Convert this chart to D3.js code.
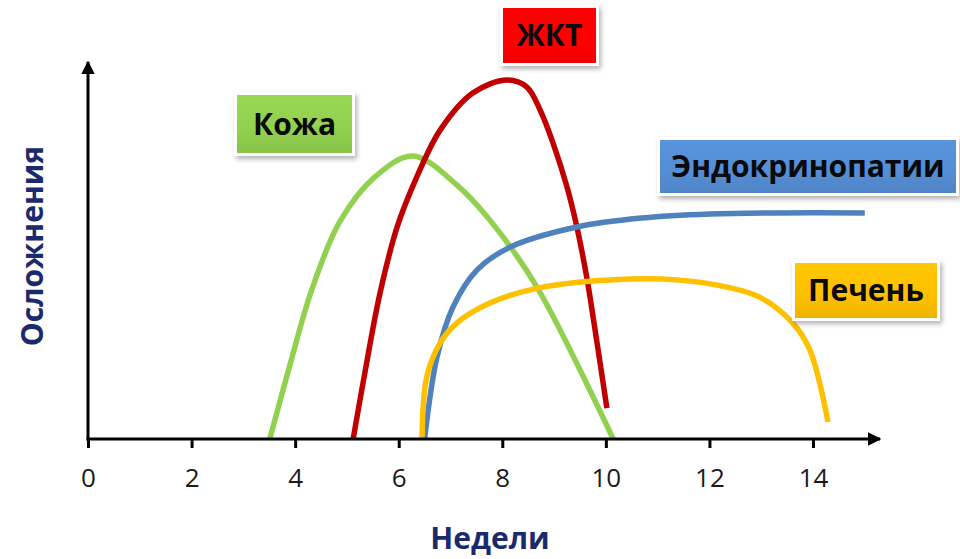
<!DOCTYPE html>
<html><head><meta charset="utf-8">
<script src="https://cdn.jsdelivr.net/npm/d3@7"></script>
<style>body{margin:0;background:#fff}svg{display:block}</style>
</head><body>
<svg id="c" width="960" height="559"></svg>
<script>
const xTicks = [0, 2, 4, 6, 8, 10, 12, 14];
const xLabel = "Недели";
const yLabel = "Осложнения";

// [week, level 0..100]
const kozha = [[3.51,0],[3.9,20.6],[4.32,41.4],[4.86,60.3],[5.54,72.8],[6.27,78.6],[7.12,70.6],[7.76,60.8],[8.67,42.2],[10.14,0]];
const zhkt = [[5.12,0],[5.39,21.9],[5.64,40.6],[5.97,58.9],[6.35,72.8],[6.8,85.8],[7.43,96.1],[8.09,99.7],[8.47,97.8],[8.73,91.4],[8.98,82.2],[9.25,70],[9.44,58.9],[9.63,45],[9.83,26.7],[10.02,8.6]];
const endo = [[6.5,0],[6.74,22.8],[7.05,36.7],[7.51,46.9],[8.15,53.3],[9.44,58.9],[10.71,61.4],[12.01,62.5],[13.3,62.8],[15.0,62.8]];
const pechen = [[6.45,0],[6.54,17.2],[6.8,26.7],[7.12,32.2],[7.76,37.8],[8.78,42.2],[10.08,44.2],[11.37,44.2],[12.34,42.2],[12.97,39.4],[13.61,32.2],[13.94,24.7],[14.29,4.7]];

const seriesNames = ["Кожа", "ЖКТ", "Эндокринопатии", "Печень"];
const seriesData = [kozha, zhkt, endo, pechen];
const lineColors = ["#92d050", "#c00000", "#4f81bd", "#ffc000"];
const boxColors = ["#92d050", "#ff0000", "#558ed5", "#ffc000"];

const svg = d3.select("#c");
const x = d3.scaleLinear().domain([0, 14]).range([88, 813]);
const y = d3.scaleLinear().domain([0, 100]).range([439, 79]);

const defs = svg.append("defs");
defs.append("marker").attr("id","arr").attr("viewBox","0 0 10 10").attr("refX",9).attr("refY",5)
  .attr("markerWidth",4.5).attr("markerHeight",4.5).attr("orient","auto-start-reverse")
  .append("path").attr("d","M0,0L10,5L0,10z").attr("fill","#000");
const f = defs.append("filter").attr("id","sh").attr("x","-20%").attr("y","-30%").attr("width","140%").attr("height","170%");
f.append("feDropShadow").attr("dx",2).attr("dy",3).attr("stdDeviation",2.5).attr("flood-color","#000").attr("flood-opacity",0.3);
boxColors.forEach((c,i)=>{
  const g = defs.append("linearGradient").attr("id","g"+i).attr("x1",0).attr("y1",0).attr("x2",0).attr("y2",1);
  g.append("stop").attr("offset","0%").attr("stop-color",d3.color(c).brighter(0.12));
  g.append("stop").attr("offset","60%").attr("stop-color",c);
  g.append("stop").attr("offset","100%").attr("stop-color",d3.color(c).darker(0.2));
});

// curves
const line = d3.line().x(d=>x(d[0])).y(d=>y(d[1])).curve(d3.curveCatmullRom.alpha(0.5));
seriesData.forEach((s,i)=>{
  svg.append("path").attr("d",line(s)).attr("fill","none").attr("stroke",lineColors[i])
    .attr("stroke-width",5.5).attr("stroke-linejoin","round");
});

// axes
const xAxis = d3.axisBottom(x).tickValues(xTicks).tickSize(9).tickFormat(d3.format("d"));
const gx = svg.append("g").attr("transform","translate(0,439)").call(xAxis);
gx.select(".domain").remove();
gx.selectAll(".tick line").attr("stroke","#000").attr("stroke-width",3);
gx.selectAll(".tick text").attr("font-family","'Open Sans', sans-serif").attr("font-size",26)
  .attr("fill","#1a1a1a").attr("dy","1.4em");
svg.append("line").attr("x1",86.5).attr("x2",880).attr("y1",439).attr("y2",439)
  .attr("stroke","#000").attr("stroke-width",3).attr("marker-end","url(#arr)");
svg.append("line").attr("x1",88).attr("x2",88).attr("y1",440.5).attr("y2",62)
  .attr("stroke","#000").attr("stroke-width",3).attr("marker-end","url(#arr)");

// axis titles
svg.append("text").attr("x",490).attr("y",549).attr("text-anchor","middle")
  .attr("font-family","'Open Sans', sans-serif").attr("font-weight",700).attr("font-size",30)
  .attr("fill","#1a2a6c").text(xLabel);
svg.append("text").attr("transform","translate(43,246) rotate(-90)").attr("text-anchor","middle")
  .attr("font-family","'Open Sans', sans-serif").attr("font-weight",700).attr("font-size",30)
  .attr("fill","#1a2a6c").text(yLabel);

// label boxes
const boxes = [
  {x:237,y:95,w:115,h:58},
  {x:503,y:8,w:93,h:55},
  {x:660,y:140,w:296,h:53},
  {x:795,y:263,w:142,h:55}
];
boxes.forEach((b,i)=>{
  const g = svg.append("g");
  g.append("rect").attr("x",b.x-3).attr("y",b.y-3).attr("width",b.w+6).attr("height",b.h+6)
    .attr("fill","#fff").attr("filter","url(#sh)");
  g.append("rect").attr("x",b.x).attr("y",b.y).attr("width",b.w).attr("height",b.h)
    .attr("fill","url(#g"+i+")");
  g.append("text").attr("x",b.x+b.w/2).attr("y",b.y+b.h/2).attr("dy","0.36em")
    .attr("text-anchor","middle").attr("font-family","'Open Sans', sans-serif")
    .attr("font-weight",700).attr("font-size",30).attr("fill","#0a0a0a").text(seriesNames[i]);
});
</script>
</body></html>
